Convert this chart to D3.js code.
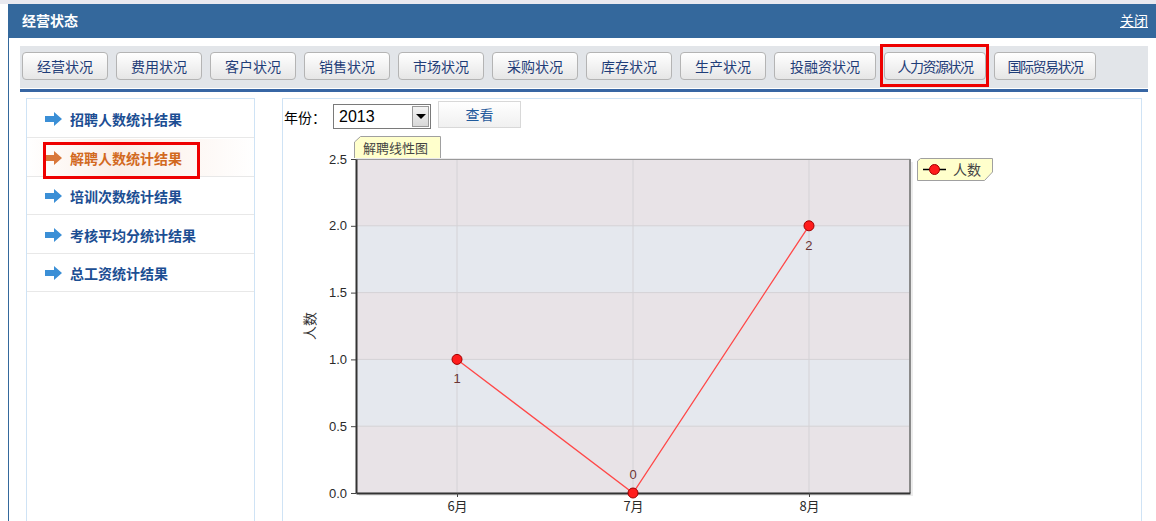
<!DOCTYPE html>
<html>
<head>
<meta charset="utf-8">
<script src="https://cdn.jsdelivr.net/npm/d3@7"></script>
<style>
  body { margin:0; width:1156px; height:521px; overflow:hidden; background:#fff;
         font-family:"Noto Sans CJK SC", "Liberation Sans", sans-serif; position:relative; }
  .abs { position:absolute; }
  #topstrip { left:0; top:0; width:1156px; height:4px; background:#e9e9ef; }
  #header { left:8px; top:4px; width:1148px; height:34px; background:#34689c; color:#fff; }
  #header .t { position:absolute; left:14px; top:6px; font-size:14px; font-weight:bold; }
  #header .c { position:absolute; right:8px; top:6px; font-size:14px; text-decoration:underline; }
  #frame { left:8px; top:38px; width:1px; height:483px; background:#34689c; }
  #toolbar { left:20px; top:46px; width:1128px; height:42px; background:#e2e5e9; }
  #blueline { left:20px; top:89px; width:1128px; height:3px; background:#3766a4; }
  .btn { position:absolute; top:6px; height:28px; box-sizing:border-box; border:1px solid #b4b4b4;
         border-radius:4px; background:linear-gradient(#ffffff,#e6e6e6); color:#1f3d78;
         font-size:14px; line-height:26px; text-align:center; white-space:nowrap; }
  .hl { position:absolute; border:3px solid #ee0000; box-sizing:border-box; }
  #left { left:26px; top:98px; width:229px; height:430px; border:1px solid #cfe3f5; box-sizing:border-box; }
  .item { position:absolute; left:0; width:227px; height:38px; border-bottom:1px solid #e8e8e8;
          box-sizing:border-box; font-size:14px; font-weight:bold; color:#1c4e93; line-height:38px; }
  .item .txt { position:absolute; left:43px; }
  .item svg { position:absolute; left:17px; top:12px; }
  #right { left:282px; top:98px; width:860px; height:430px; border:1px solid #cfe3f5; box-sizing:border-box; }
  #yr { left:284px; top:107px; font-size:14px; color:#000; }
  #sel { left:333px; top:104px; width:98px; height:25px; box-sizing:border-box; border:1px solid #7a7a7a;
         background:#fff; font-family:"Liberation Sans", sans-serif; font-size:16px; line-height:23px; padding-left:5px; }
  #sel .arr { position:absolute; right:1px; top:1px; width:17px; height:21px; background:linear-gradient(#f4f4f4,#d8d8d8);
              border:1px solid #999; box-sizing:border-box; }
  #sel .arr:after { content:""; position:absolute; left:3px; top:7px; border-left:5px solid transparent;
              border-right:5px solid transparent; border-top:5px solid #000; }
  #look { left:438px; top:101px; width:83px; height:27px; box-sizing:border-box; border:1px solid #d8d8d8;
          background:linear-gradient(#ffffff,#f0f0f0); color:#1f5a9c; font-size:14px; line-height:25px; text-align:center; }
  svg#chart { position:absolute; left:0; top:0; pointer-events:none; }
</style>
</head>
<body>
<div id="topstrip" class="abs"></div>
<div id="header" class="abs"><span class="t">经营状态</span><span class="c">关闭</span></div>
<div id="frame" class="abs"></div>
<div id="toolbar" class="abs"></div>
<div id="blueline" class="abs"></div>
<div id="left" class="abs"></div>
<div id="right" class="abs"></div>
<div id="yr" class="abs">年份：</div>
<div id="sel" class="abs">2013<div class="arr"></div></div>
<div id="look" class="abs">查看</div>
<svg id="chart" width="1156" height="521"></svg>
<script>
// data
var tabs = ["经营状况","费用状况","客户状况","销售状况","市场状况","采购状况","库存状况","生产状况","投融资状况","人力资源状况","国际贸易状况"];
var activeTab = "人力资源状况";
var menuItems = ["招聘人数统计结果","解聘人数统计结果","培训次数统计结果","考核平均分统计结果","总工资统计结果"];
var activeItem = "解聘人数统计结果";
var months = ["6月","7月","8月"];
var counts = [1, 0, 2];
var yTicks = [0, 0.5, 1.0, 1.5, 2.0, 2.5];
var chartTitle = "解聘线性图";
var seriesName = "人数";
var yTitle = "人数";

// toolbar buttons
var tb = d3.select("#toolbar");
var bx = 2;
tabs.forEach(function(t) {
  var w = t.length <= 4 ? 86 : 102;
  var b = tb.append("div").attr("class","btn").style("left", bx + "px").style("width", w + "px").text(t);
  if (t.length > 5) b.style("letter-spacing","-1.5px");
  if (t === activeTab) {
    tb.append("div").attr("class","hl").style("left",(bx-4)+"px").style("top","-2px")
      .style("width",(w+7)+"px").style("height","43px");
  }
  bx += w + 8;
});

// left menu
var lm = d3.select("#left");
menuItems.forEach(function(m, i) {
  var on = m === activeItem;
  var it = lm.append("div").attr("class","item").style("top", (1 + i*38.5) + "px");
  if (on) it.style("background","linear-gradient(90deg,#fff 0%,#fbeee6 40%,#fff 100%)").style("color","#d2691e");
  var s = it.append("svg").attr("width",20).attr("height",14);
  s.append("path").attr("d","M1,4 L10,4 L10,0 L18,7 L10,14 L10,10 L1,10 Z")
    .attr("fill", on ? "#d9773a" : "#3b8fd6");
  it.append("span").attr("class","txt").text(m);
  if (on) {
    lm.append("div").attr("class","hl").style("left","16px").style("top",(i*38.5+4)+"px")
      .style("width","157px").style("height","37px");
  }
});

// chart
var svg = d3.select("#chart");
var L = 356, R = 910, T = 159, B = 493;
var x = d3.scalePoint().domain(months).range([L, R]).padding(0.574);
var y = d3.scaleLinear().domain([0, 2.5]).range([B, T]);

// shadow
svg.append("rect").attr("x", L+3).attr("y", T+3).attr("width", R-L).attr("height", B-T).attr("fill","#ececec");

// bands
var bands = d3.pairs(yTicks);
svg.selectAll("rect.band").data(bands).enter().append("rect")
  .attr("x", L).attr("width", R-L)
  .attr("y", function(d){ return y(d[1]); })
  .attr("height", function(d){ return y(d[0]) - y(d[1]); })
  .attr("fill", function(d,i){ return i % 2 === 0 ? "#e8e3e7" : "#e5e8ee"; });

// grid
svg.selectAll("line.hg").data(yTicks).enter().append("line")
  .attr("x1", L).attr("x2", R).attr("y1", function(d){ return y(d); }).attr("y2", function(d){ return y(d); })
  .attr("stroke","#d4d2d6").attr("stroke-width",1);
svg.selectAll("line.vg").data(months).enter().append("line")
  .attr("x1", function(d){ return x(d); }).attr("x2", function(d){ return x(d); })
  .attr("y1", T).attr("y2", B).attr("stroke","#d4d2d6").attr("stroke-width",1);

// frame
svg.append("line").attr("x1",L).attr("x2",R).attr("y1",T+0.5).attr("y2",T+0.5).attr("stroke","#9a9a9a");
svg.append("line").attr("x1",R).attr("x2",R).attr("y1",T).attr("y2",B).attr("stroke","#8a8a8a").attr("stroke-width",2);

// axes
var yAxis = d3.axisLeft(y).tickValues(yTicks).tickFormat(d3.format(".1f")).tickSize(5).tickSizeOuter(0);
var xAxis = d3.axisBottom(x).tickSize(4).tickSizeOuter(0);
var gy = svg.append("g").attr("transform","translate(" + L + ",0)").call(yAxis);
var gx = svg.append("g").attr("transform","translate(0," + B + ")").call(xAxis);
[gy, gx].forEach(function(g){
  g.select(".domain").attr("stroke","#333").attr("stroke-width",2);
  g.selectAll(".tick line").attr("stroke","#444");
  g.selectAll("text").attr("fill","#2a2a2a").style("font-family","'Liberation Sans', 'Noto Sans CJK SC', sans-serif")
    .style("font-size","13px");
});
gy.selectAll("text").attr("x", -9);
gx.selectAll("text").attr("dy","0.85em").style("font-family","'Noto Sans CJK SC', sans-serif");

svg.append("text").attr("transform","translate(315," + ((T+B)/2) + ") rotate(-90)")
  .attr("text-anchor","middle").attr("fill","#333").style("font-size","14px").text(yTitle);

// line + markers
var pts = months.map(function(m, i){ return {m:m, v:counts[i]}; });
svg.append("path").datum(pts)
  .attr("d", d3.line().x(function(d){ return x(d.m); }).y(function(d){ return y(d.v); }))
  .attr("fill","none").attr("stroke","#ff4848").attr("stroke-width",1.3);
svg.selectAll("circle.pt").data(pts).enter().append("circle")
  .attr("cx", function(d){ return x(d.m); }).attr("cy", function(d){ return y(d.v); })
  .attr("r",5).attr("fill","#ff1c1c").attr("stroke","#a00000").attr("stroke-width",1);
svg.selectAll("text.lbl").data(pts).enter().append("text")
  .attr("x", function(d){ return x(d.m); })
  .attr("y", function(d){ return d.v === 0 ? y(d.v) - 14 : y(d.v) + 24; })
  .attr("text-anchor","middle").attr("fill","#6b3535")
  .style("font-family","'Liberation Sans', sans-serif").style("font-size","13px")
  .text(function(d){ return d.v; });

// title tab
svg.append("path").attr("d","M354.5,158 L354.5,142 L360.5,136.5 L440.5,136.5 L440.5,158")
  .attr("fill","#ffffcc").attr("stroke","#a0a0a0");
svg.append("text").attr("x",363).attr("y",153).attr("fill","#444").style("font-size","13px").text(chartTitle);

// legend
svg.append("path").attr("d","M917.5,161 L920.5,158.5 L992.5,158.5 L992.5,172 L984.5,180.5 L917.5,180.5 Z")
  .attr("fill","#ffffcc").attr("stroke","#a0a0a0");
svg.append("line").attr("x1",923).attr("x2",946).attr("y1",169.5).attr("y2",169.5).attr("stroke","#000").attr("stroke-width",1.5);
svg.append("circle").attr("cx",934.5).attr("cy",169.5).attr("r",5).attr("fill","#ff1c1c").attr("stroke","#a00000");
svg.append("text").attr("x",953).attr("y",174.5).attr("fill","#444").style("font-size","14px").text(seriesName);
</script>
</body>
</html>
